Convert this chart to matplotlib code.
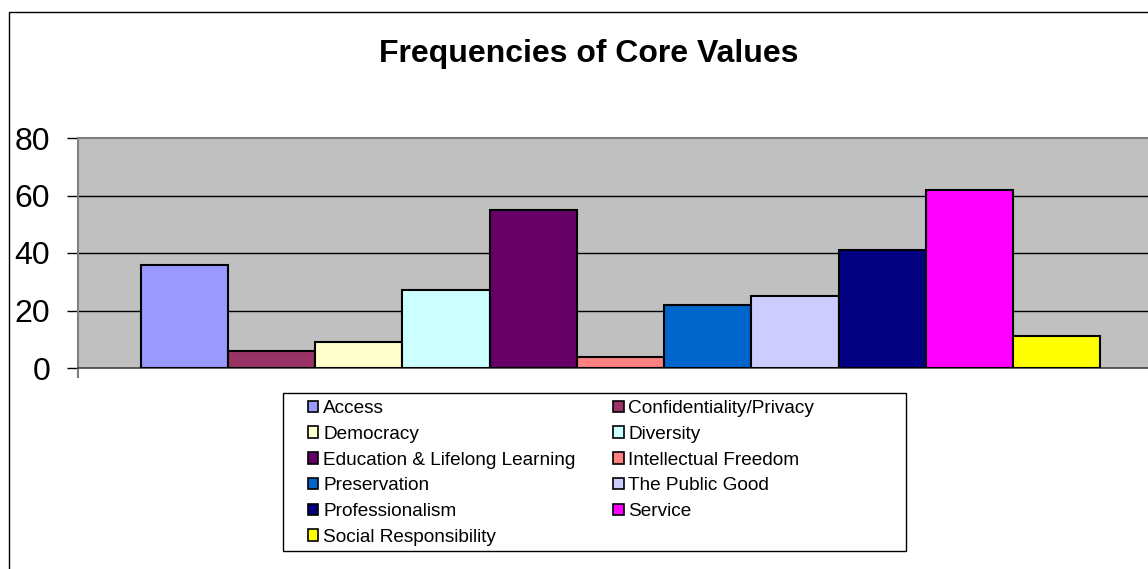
import matplotlib
matplotlib.use("Agg")
import matplotlib.pyplot as plt
from matplotlib.patches import Rectangle, Patch

plt.rcParams["font.family"] = ["Liberation Sans", "DejaVu Sans"]

categories = [
    "Access", "Confidentiality/Privacy", "Democracy", "Diversity",
    "Education & Lifelong Learning", "Intellectual Freedom", "Preservation",
    "The Public Good", "Professionalism", "Service", "Social Responsibility",
]
values = [36, 6, 9, 27, 55, 4, 22, 25, 41, 62, 11]
colors = [
    "#9999FF", "#993366", "#FFFFCC", "#CCFFFF", "#660066", "#FF8080",
    "#0066CC", "#CCCCFF", "#000080", "#FF00FF", "#FFFF00",
]
y_ticks = [0, 20, 40, 60, 80]

W, H = 1148, 569
fig = plt.figure(figsize=(W / 100, H / 100), dpi=100)

# outer chart border (runs off the right/bottom of the image)
fig.patches.append(Rectangle((9 / W, -0.1), 1.2, 1 - 12 / H + 0.1,
                             transform=fig.transFigure, fill=False,
                             edgecolor="black", linewidth=1.0))

fig.text(589 / W, 1 - 54 / H, "Frequencies of Core Values",
         ha="center", va="center", fontsize=23, fontweight="bold")

# plot area in pixels: left 78, right ~1163, top 138, bottom 368
ax = fig.add_axes([78 / W, 1 - 368 / H, (1163 - 78) / W, (368 - 138) / H])
ax.set_facecolor("#C0C0C0")

x = list(range(len(values)))
ax.bar(x, values, width=1.0, color=colors, edgecolor="black", linewidth=1.5,
       zorder=3)

gap = 0.72
ax.set_xlim(-0.5 - gap, len(values) - 0.5 + gap)
ax.set_ylim(0, 80)
ax.set_yticks(y_ticks)
ax.set_xticks([])
ax.tick_params(axis="y", labelsize=23, length=8, width=1.0, pad=12,
               color="black")
for yt in y_ticks[1:-1]:
    ax.axhline(yt, color="black", linewidth=1.0, zorder=1)

for side in ["top", "left"]:
    ax.spines[side].set_color("#808080")
    ax.spines[side].set_linewidth(1.5)
ax.spines["right"].set_visible(False)
ax.spines["bottom"].set_color("#404040")
ax.spines["bottom"].set_linewidth(1.2)
ax.spines["left"].set_bounds(-3, 80)
ax.spines["left"].set_clip_on(False)

# legend box
fig.patches.append(Rectangle((283 / W, 1 - 551 / H), (906 - 283) / W,
                             (551 - 393) / H, transform=fig.transFigure,
                             fill=False, edgecolor="black", linewidth=1.0))
order = [0, 2, 4, 6, 8, 10, 1, 3, 5, 7, 9]
handles = [Patch(facecolor=colors[i], edgecolor="black", linewidth=1.2)
           for i in order]
labels = [categories[i] for i in order]
fig.legend(handles, labels, ncol=2, loc="upper left",
           bbox_to_anchor=(308 / W, 1 - 400 / H), frameon=False,
           fontsize=13.7, handlelength=0.55, handleheight=0.55,
           handletextpad=0.25, columnspacing=1.98, labelspacing=0.46,
           borderaxespad=0, borderpad=0)

fig.savefig("out.png", dpi=100)
